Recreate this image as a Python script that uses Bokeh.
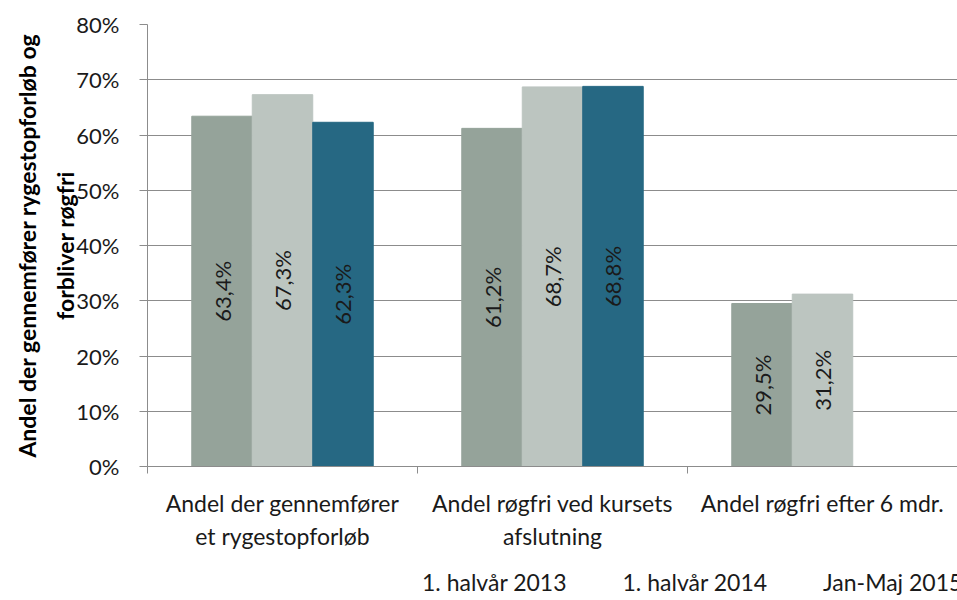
from bokeh.plotting import figure
from bokeh.layouts import column
from bokeh.models import ColumnDataSource, FixedTicker, Legend, LegendItem, NumeralTickFormatter, Range1d, LinearAxis
from bokeh.core.properties import value
from bokeh.embed import file_html
from bokeh.resources import INLINE
import math

categories = ["Andel der gennemfører\net rygestopforløb", "Andel røgfri ved kursets\nafslutning", "Andel røgfri efter 6 mdr."]
series_names = ["1. halvår 2013", "1. halvår 2014", "Jan-Maj 2015"]
v2013 = [0.634, 0.612, 0.295]
v2014 = [0.673, 0.687, 0.312]
v2015 = [0.623, 0.688, None]
labels2013 = ["63,4%", "61,2%", "29,5%"]
labels2014 = ["67,3%", "68,7%", "31,2%"]
labels2015 = ["62,3%", "68,8%", None]
y_ticks = [0, 0.1, 0.2, 0.3, 0.4, 0.5, 0.6, 0.7, 0.8]
y_title_lines = ["Andel der gennemfører rygestopforløb og", "forbliver røgfri"]

colors = ["#95A39A", "#BCC5C0", "#266883"]
FONT = "Lato"
bar_w = 0.224
offsets = [-bar_w, 0.0, bar_w]
ncat = len(categories)

p = figure(output_backend="svg", toolbar_location=None,
           x_range=Range1d(0, ncat), y_range=Range1d(0, 0.8),
           frame_width=810, frame_height=442, min_border_left=147, min_border_top=24,
           min_border_right=0, min_border_bottom=98)
p.outline_line_color = None
p.xgrid.grid_line_color = None
p.ygrid.grid_line_color = "#8C8C8C"
p.ygrid.grid_line_width = 1
p.background_fill_color = "white"
p.border_fill_color = "white"

all_vals = [v2013, v2014, v2015]
all_labels = [labels2013, labels2014, labels2015]
for s, (vals, labs) in enumerate(zip(all_vals, all_labels)):
    xs, tops, txt, mids = [], [], [], []
    for i, (v, l) in enumerate(zip(vals, labs)):
        if v is None:
            continue
        xs.append(i + 0.5 + offsets[s])
        tops.append(v)
        txt.append(l)
        mids.append(v / 2)
    src = ColumnDataSource(dict(x=xs, top=tops, txt=txt, mid=mids))
    p.vbar(x="x", top="top", bottom=0, width=bar_w, source=src,
           fill_color=colors[s], line_color=colors[s])
    p.text(x="x", y="mid", text="txt", source=src, angle=math.pi / 2,
           text_align="center", text_baseline="middle", text_font=value(FONT),
           text_font_size="22px", text_color="#1a1a1a")

centers = [i + 0.5 for i in range(ncat)]

xa = p.xaxis[0]
xa.ticker = FixedTicker(ticks=centers, minor_ticks=list(range(ncat + 1)))
xa.major_label_overrides = {c: t for c, t in zip(centers, categories)}
xa.major_tick_out = 0
xa.major_tick_in = 0
xa.minor_tick_out = 7
xa.minor_tick_in = 0
xa.minor_tick_line_color = "#8C8C8C"
xa.axis_line_color = "#8C8C8C"
xa.major_label_text_font = FONT
xa.major_label_text_font_size = "23px"
xa.major_label_text_color = "#1a1a1a"
xa.major_label_standoff = 15

ya = p.yaxis[0]
ya.ticker = FixedTicker(ticks=y_ticks, minor_ticks=[])
p.ygrid.ticker = FixedTicker(ticks=y_ticks)
ya.formatter = NumeralTickFormatter(format="0%")
ya.major_tick_out = 8
ya.major_tick_in = 0
ya.major_tick_line_color = "#8C8C8C"
ya.axis_line_color = "#8C8C8C"
ya.major_label_text_font = FONT
ya.major_label_text_font_size = "22px"
ya.major_label_text_color = "#1a1a1a"
ya.major_label_standoff = 20
ya.axis_label = y_title_lines[1]
ya.axis_label_text_font = FONT
ya.axis_label_text_font_style = "bold"
ya.axis_label_text_font_size = "23px"
ya.axis_label_text_color = "#000000"
ya.axis_label_standoff = -6

ya2 = LinearAxis(ticker=FixedTicker(ticks=[], minor_ticks=[]), axis_line_color=None,
                 major_tick_line_color=None, minor_tick_line_color=None,
                 axis_label=y_title_lines[0], axis_label_text_font=FONT,
                 axis_label_text_font_style="bold", axis_label_text_font_size="23px",
                 axis_label_text_color="#000000", axis_label_standoff=8)
p.add_layout(ya2, "left")

# legend strip below the chart
p2 = figure(width=957, height=36, output_backend="svg", toolbar_location=None,
            x_axis_type=None, y_axis_type=None,
            min_border_left=0, min_border_right=0, min_border_top=0, min_border_bottom=0)
p2.outline_line_color = None
p2.background_fill_color = "white"
p2.border_fill_color = "white"
p2.grid.visible = False
items = []
for s in range(len(series_names)):
    r = p2.vbar(x=[], top=[], width=0.5, fill_color=colors[s], line_color=colors[s])
    items.append(LegendItem(label=series_names[s], renderers=[r]))

legend = Legend(items=items, orientation="horizontal", location=(253, 4),
                label_text_font=FONT, label_text_font_size="23px",
                label_text_color="#1a1a1a", glyph_width=15, glyph_height=15,
                spacing=34, label_standoff=7, border_line_color=None,
                background_fill_alpha=0, padding=0, margin=0)
p2.add_layout(legend, "center")

layout = column(p, p2, spacing=0)
open("out.html", "w").write(file_html(layout, INLINE))
